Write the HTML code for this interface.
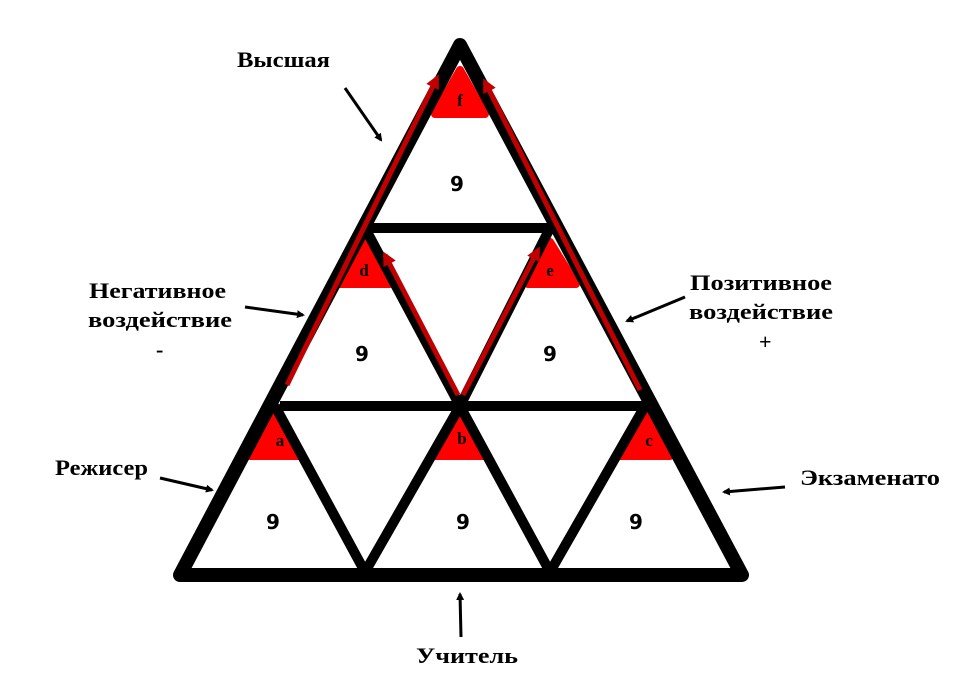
<!DOCTYPE html>
<html><head><meta charset="utf-8"><style>body{margin:0;background:#fff}svg{display:block}</style></head><body>
<svg width="960" height="690" viewBox="0 0 960 690" xmlns="http://www.w3.org/2000/svg">
<defs>
<marker id="ab" markerWidth="8" markerHeight="8" refX="6" refY="4" orient="auto" markerUnits="userSpaceOnUse"><path d="M0,0 L8,4 L0,8 Z" fill="#000"/></marker>
<marker id="ar" markerWidth="14" markerHeight="14" refX="10" refY="7" orient="auto" markerUnits="userSpaceOnUse"><path d="M0,0 L14,7 L0,14 Z" fill="#c00000"/></marker>
</defs>
<g fill="#f00" stroke="#f00" stroke-width="8" stroke-linejoin="round">
<path d="M460,70 L485,114 L435,114 Z"/>
<path d="M365,242 L390,284 L340,284 Z"/>
<path d="M550,242 L576,284 L528,284 Z"/>
<path d="M275,412 L300,456 L250,456 Z"/>
<path d="M460,412 L485,456 L435,456 Z"/>
<path d="M645,412 L670,456 L620,456 Z"/>
</g>
<g stroke="#000" stroke-width="10" fill="none" stroke-linejoin="round">
<line x1="370" y1="228" x2="555" y2="228"/>
<line x1="280" y1="406" x2="645" y2="406"/>
<path d="M275,406 L365,572 L460,406 L550,572 L645,406"/>
<path d="M365,228 L460,406 L550,228"/>
</g>
<path d="M460,45 L742,575 L180,575 Z" fill="none" stroke="#000" stroke-width="14" stroke-linejoin="round"/>
<g stroke="#c00000" stroke-width="5" marker-end="url(#ar)">
<line x1="287" y1="385" x2="437" y2="78"/>
<line x1="458" y1="395" x2="385" y2="255"/>
<line x1="463" y1="395" x2="538" y2="250"/>
<line x1="640" y1="390" x2="485" y2="82"/>
</g>
<g fill="#000" font-family="Liberation Serif,serif" font-weight="bold" font-size="17" text-anchor="middle">
<text x="460" y="106">f</text><text x="364" y="276">d</text><text x="550" y="276">e</text>
<text x="280" y="446">a</text><text x="462" y="444">b</text><text x="649" y="446">c</text>
</g>
<g fill="#000" font-family="DejaVu Sans,Liberation Sans,sans-serif" font-weight="bold" font-size="20" text-anchor="middle">
<text x="457" y="191">9</text><text x="362" y="361">9</text><text x="550" y="361">9</text>
<text x="273" y="529">9</text><text x="463" y="529">9</text><text x="636" y="529">9</text>
</g>
<g fill="#000" font-family="Liberation Serif,serif" font-weight="bold" font-size="22" lengthAdjust="spacingAndGlyphs">
<text x="237" y="67" textLength="93" lengthAdjust="spacingAndGlyphs">Высшая</text>
<text x="89" y="298" textLength="137" lengthAdjust="spacingAndGlyphs">Негативное</text>
<text x="88" y="327" textLength="144" lengthAdjust="spacingAndGlyphs">воздействие</text>
<text x="156" y="357">-</text>
<text x="690" y="290" textLength="142" lengthAdjust="spacingAndGlyphs">Позитивное</text>
<text x="689" y="319" textLength="144" lengthAdjust="spacingAndGlyphs">воздействие</text>
<text x="759" y="349">+</text>
<text x="55" y="475" textLength="93" lengthAdjust="spacingAndGlyphs">Режисер</text>
<text x="800" y="485" textLength="140" lengthAdjust="spacingAndGlyphs">Экзаменато</text>
<text x="416" y="663" textLength="102" lengthAdjust="spacingAndGlyphs">Учитель</text>
</g>
<g stroke="#000" stroke-width="3" marker-end="url(#ab)">
<line x1="345" y1="88" x2="381" y2="140"/>
<line x1="245" y1="307" x2="303" y2="315"/>
<line x1="685" y1="297" x2="627" y2="321"/>
<line x1="160" y1="478" x2="212" y2="490"/>
<line x1="785" y1="487" x2="724" y2="492"/>
<line x1="461" y1="637" x2="460" y2="594"/>
</g>
</svg>
</body></html>
